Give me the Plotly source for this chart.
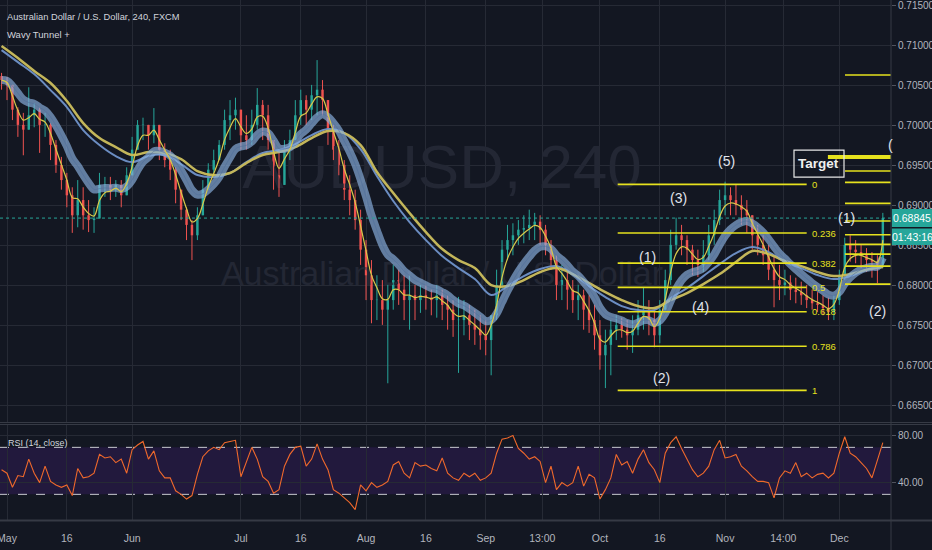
import plotly.graph_objects as go

# ---------------- data (daily bars, index 0 = 1 May, trading days) ----------------
idx = list(range(-1, 162))
first_open = 0.7062
high = [.7066, .7061, .7045, .7023, .7016, .7048, .7028, .7023, .7016, .7003,
        .6982, .6961, .6941, .6923, .6932, .6923, .6907, .6898, .6941, .6936,
        .6936, .6932, .6932, .6948, .6986, .7007, .7010, .6998, .7022, .6991,
        .6978, .6970, .6948, .6920, .6898, .6882, .6898, .6932, .6953, .6970,
        .6982, .7020, .7032, .7035, .7020, .7013, .7020, .7047, .7032, .7026,
        .6982, .6970, .6982, .6995, .7032, .7045, .7038, .7051, .7082, .7057,
        .7032, .7001, .6982, .6957, .6938, .6920, .6895, .6857, .6832, .6813,
        .6807, .6801, .6826, .6820, .6813, .6813, .6801, .6801, .6801, .6795,
        .6801, .6795, .6788, .6782, .6786, .6782, .6776, .6770, .6763, .6757,
        .6751, .6820, .6857, .6876, .6878, .6882, .6888, .6895, .6891, .6888,
        .6876, .6857, .6838, .6826, .6820, .6807, .6801, .6795, .6788, .6776,
        .6757, .6745, .6757, .6763, .6760, .6757, .6763, .6782, .6798, .6782,
        .6770, .6782, .6820, .6870, .6885, .6876, .6863, .6851, .6845, .6857,
        .6876, .6895, .6920, .6930, .6923, .6926, .6913, .6907, .6888, .6876,
        .6863, .6851, .6838, .6826, .6820, .6813, .6810, .6805, .6801, .6795,
        .6792, .6788, .6785, .6788, .6820, .6860, .6863, .6857, .6851, .6847,
        .6842, .6838, .6891]
low = [.7045, .7032, .7007, .6986, .6963, .6995, .6998, .6966, .6986, .6957,
       .6941, .6920, .6898, .6866, .6873, .6870, .6867, .6866, .6886, .6911,
       .6907, .6911, .6898, .6916, .6941, .6970, .6982, .6970, .6978, .6957,
       .6948, .6932, .6903, .6882, .6857, .6832, .6857, .6898, .6923, .6941,
       .6957, .6970, .6982, .6995, .6970, .6970, .6976, .6995, .6982, .6970,
       .6920, .6911, .6945, .6957, .6982, .7001, .7001, .7007, .7013, .7013,
       .6976, .6957, .6938, .6907, .6888, .6870, .6826, .6782, .6753, .6757,
       .6751, .6678, .6770, .6776, .6757, .6745, .6757, .6766, .6770, .6763,
       .6760, .6757, .6745, .6736, .6691, .6738, .6732, .6726, .6720, .6713,
       .6688, .6757, .6795, .6832, .6838, .6851, .6853, .6857, .6857, .6851,
       .6838, .6820, .6782, .6782, .6770, .6766, .6757, .6745, .6741, .6720,
       .6695, .6672, .6688, .6732, .6735, .6720, .6716, .6738, .6745, .6738,
       .6723, .6728, .6770, .6801, .6845, .6838, .6826, .6813, .6811, .6817,
       .6832, .6851, .6876, .6888, .6888, .6888, .6876, .6866, .6845, .6838,
       .6826, .6807, .6773, .6782, .6788, .6782, .6778, .6776, .6772, .6770,
       .6767, .6763, .6757, .6757, .6776, .6807, .6830, .6828, .6822, .6817,
       .6810, .6803, .6822]
close = [.7057, .7051, .7020, .7001, .6995, .7013, .7020, .7001, .7001, .6976,
         .6951, .6932, .6913, .6888, .6907, .6888, .6882, .6884, .6926, .6926,
         .6920, .6926, .6913, .6938, .6970, .7001, .7001, .6988, .7001, .6970,
         .6957, .6945, .6920, .6895, .6876, .6863, .6888, .6920, .6945, .6957,
         .6976, .7007, .7013, .7020, .6988, .6982, .7001, .7026, .7013, .6982,
         .6938, .6926, .6970, .6982, .7013, .7032, .7020, .7038, .7045, .7032,
         .6995, .6970, .6951, .6920, .6907, .6882, .6845, .6813, .6782, .6782,
         .6770, .6782, .6807, .6795, .6782, .6788, .6782, .6788, .6785, .6782,
         .6788, .6776, .6770, .6757, .6757, .6763, .6751, .6745, .6738, .6732,
         .6763, .6801, .6845, .6857, .6863, .6870, .6872, .6876, .6880, .6870,
         .6851, .6832, .6801, .6807, .6795, .6782, .6788, .6770, .6757, .6738,
         .6713, .6726, .6745, .6751, .6745, .6738, .6745, .6763, .6770, .6757,
         .6738, .6770, .6807, .6851, .6863, .6857, .6845, .6832, .6826, .6838,
         .6863, .6882, .6907, .6913, .6907, .6901, .6895, .6888, .6863, .6851,
         .6838, .6820, .6807, .6801, .6804, .6795, .6792, .6788, .6782, .6778,
         .6776, .6772, .6767, .6782, .6813, .6851, .6845, .6842, .6838, .6832,
         .6830, .6826, .68845]
rsi = [51, 48, 36, 46, 45, 60, 48, 40, 54, 41,
       38, 36, 38, 29, 52, 44, 45, 48, 64, 61,
       62, 57, 60, 48, 68, 72, 75, 60, 67, 50,
       44, 44, 33, 30, 26, 29, 47, 62, 67, 70,
       68, 74, 75, 76, 45, 57, 70, 60, 45, 41,
       31, 34, 54, 64, 70, 71, 54, 60, 73, 60,
       51, 34, 31, 27, 23, 17, 38, 33, 40, 36,
       38, 41, 55, 58, 48, 44, 57, 54, 55, 52,
       50, 61, 48, 44, 42, 48, 45, 48, 42, 44,
       48, 65, 77, 78, 80, 69, 65, 60, 62, 58,
       40, 54, 34, 40, 37, 40, 54, 37, 47, 44,
       26, 34, 44, 64, 55, 58, 48, 60, 68, 57,
       51, 40, 65, 74, 79, 69, 60, 51, 45, 48,
       54, 68, 76, 61, 62, 64, 54, 50, 45, 41,
       41, 40, 27, 44, 50, 48, 57, 45, 48, 44,
       47, 48, 44, 48, 65, 79, 65, 62, 57, 52,
       44, 60, 74]

# slow tunnel lines (every 3rd bar)
slow_idx = list(range(-1, 162, 3))
slow_yellow = [.70995, .70845, .70683, .70533, .70308, .70033, .69845, .69733, .69633, .6967,
               .69658, .69583, .69433, .69383, .69408, .69533, .69633, .6967, .69733, .69845,
               .69933, .69908, .69758, .6942, .69158, .68908, .6867, .68458, .6832, .6822,
               .68008, .67995, .6807, .6817, .6822, .68145, .68033, .6792, .6782, .67745,
               .6772, .6782, .67908, .6802, .68145, .68295, .68433, .68395, .68308, .68245,
               .6817, .6812, .68145, .6820, .68233]
slow_blue = [.70945, .70795, .70645, .70445, .70233, .69945, .69758, .6962, .69545, .6962,
             .69633, .6952, .69383, .69358, .69408, .69545, .69658, .69695, .6977, .69883,
             .69958, .69908, .69708, .6937, .69058, .68795, .6857, .6837, .6822, .68083,
             .67883, .67995, .6812, .68208, .68245, .68145, .67995, .67858, .67745, .67695,
             .67695, .67845, .6797, .6812, .6827, .68408, .68483, .6842, .68295, .6822,
             .68133, .68083, .6812, .6820, .68245]

tick_pos = [0, 11, 23, 43, 54, 66, 77, 88, 98.4, 109, 120, 132, 142.7, 153]
tick_txt = ["May", "16", "Jun", "Jul", "16", "Aug", "16", "Sep", "13:00", "Oct", "16", "Nov", "14:00", "Dec"]
price_ticks = [0.665, 0.670, 0.675, 0.680, 0.685, 0.690, 0.695, 0.700, 0.705, 0.710, 0.715]

last_price = 0.68845
fib_hi, fib_lo = 0.69266, 0.66691
fib_ratios = [0, 0.236, 0.382, 0.5, 0.618, 0.786, 1]
fib_x0, fib_x1 = 112.26, 147.0
proj_levels = [0.70633, 0.69433, 0.69291, 0.69029, 0.68808, 0.68636, 0.68516, 0.68395, 0.68245, 0.6802]
target_level = 0.69608
waves = [("(5)", 132.35, 0.69557), ("(3)", 123.35, 0.69095), ("(1)", 117.65, 0.68358),
         ("(4)", 127.39, 0.67733), ("(2)", 120.22, 0.66845), ("(1)", 154.4, 0.68845),
         ("(2)", 159.93, 0.67683), ("(", 162.35, 0.69758)]

# ---------------- styling ----------------
BG = "#131722"
GRID = "#262a35"
TXT = "#b2b5be"
UP, DN = "#26a69a", "#ef5350"
YEL = "#e6e21e"
FONT = "Liberation Sans Narrow, Liberation Sans, Arial, sans-serif"
W_PLOT, H_PLOT = 891, 521


def ema(vals, alpha, seed):
    out, e = [], seed
    for v in vals:
        e = e + alpha * (v - e)
        out.append(e)
    return out


opens = [first_open] + close[:-1]
hi = [max(h, o, c) for h, o, c in zip(high, opens, close)]
lo = [min(l, o, c) for l, o, c in zip(low, opens, close)]

fig = go.Figure()

# watermark
fig.add_trace(go.Scatter(x=[79.96], y=[0.6942], mode="text", text=["AUDUSD, 240"],
                         textfont=dict(family=FONT, size=62, color="#232734"),
                         hoverinfo="skip", xaxis="x", yaxis="y"))
fig.add_trace(go.Scatter(x=[79.96], y=[0.6812], mode="text", text=["Australian Dollar / U.S. Dollar"],
                         textfont=dict(family=FONT, size=34, color="#232734"),
                         hoverinfo="skip", xaxis="x", yaxis="y"))

# candles: wicks
for up in (True, False):
    xs, ys = [], []
    for i, o, c, h, l in zip(idx, opens, close, hi, lo):
        if (c >= o) == up:
            xs += [i, i, None]
            ys += [l, h, None]
    fig.add_trace(go.Scatter(x=xs, y=ys, mode="lines", line=dict(color=UP if up else DN, width=1),
                             hoverinfo="skip", xaxis="x", yaxis="y"))
# candles: bodies
fig.add_trace(go.Bar(x=idx, y=[max(abs(c - o), 0.00004) for o, c in zip(opens, close)],
                     base=[min(o, c) for o, c in zip(opens, close)], width=0.45,
                     marker=dict(color=[UP if c >= o else DN for o, c in zip(opens, close)], line=dict(width=0)),
                     hoverinfo="skip", xaxis="x", yaxis="y"))

# slow tunnel
fig.add_trace(go.Scatter(x=slow_idx, y=slow_blue, mode="lines", line=dict(color="#6b8dc2", width=2, shape="spline"),
                         hoverinfo="skip", xaxis="x", yaxis="y"))
fig.add_trace(go.Scatter(x=slow_idx, y=slow_yellow, mode="lines", line=dict(color="#c3b65a", width=2.5, shape="spline"),
                         hoverinfo="skip", xaxis="x", yaxis="y"))

# wavy tunnel (EMA of close) + fast EMA
tun = ema(close, 0.18, 0.7057)
fast = ema(close, 0.5, 0.7057)
fig.add_trace(go.Scatter(x=idx, y=tun, mode="lines", line=dict(color="#88aedb", width=8, shape="spline"),
                         opacity=0.68, hoverinfo="skip", xaxis="x", yaxis="y"))
fig.add_trace(go.Scatter(x=idx, y=tun, mode="lines", line=dict(color="#4e6d9a", width=1, shape="spline"),
                         opacity=0.55, hoverinfo="skip", xaxis="x", yaxis="y"))
fig.add_trace(go.Scatter(x=idx, y=fast, mode="lines", line=dict(color="#d8c94a", width=1.2, shape="spline"),
                         hoverinfo="skip", xaxis="x", yaxis="y"))

# RSI
fig.add_trace(go.Scatter(x=idx, y=rsi, mode="lines", line=dict(color="#f0692c", width=1.1),
                         hoverinfo="skip", xaxis="x", yaxis="y2"))

shapes = []
# RSI band
shapes.append(dict(type="rect", xref="paper", yref="y2", x0=0, x1=1, y0=30, y1=70,
                   fillcolor="#22193d", line=dict(width=0), layer="below"))
for lv in (30, 70):
    shapes.append(dict(type="line", xref="paper", yref="y2", x0=0, x1=1, y0=lv, y1=lv,
                       line=dict(color="#c8cad0", width=1, dash="dash"), layer="between"))
# last price line
shapes.append(dict(type="line", xref="paper", yref="y", x0=0, x1=1, y0=last_price, y1=last_price,
                   line=dict(color=UP, width=1, dash="dot"), layer="above"))
# fibonacci retracement
for r in fib_ratios:
    p = fib_hi - r * (fib_hi - fib_lo)
    shapes.append(dict(type="line", xref="x", yref="y", x0=fib_x0, x1=fib_x1, y0=p, y1=p,
                       line=dict(color=YEL, width=1.6), layer="above"))
# projection lines
for p in proj_levels:
    shapes.append(dict(type="line", xref="x", yref="y", x0=154.04, x1=162.5, y0=p, y1=p,
                       line=dict(color=YEL, width=1.6), layer="above"))
shapes.append(dict(type="line", xref="x", yref="y", x0=150.9, x1=162.5, y0=target_level, y1=target_level,
                   line=dict(color=YEL, width=4), layer="above"))
# target box
shapes.append(dict(type="rect", xref="x", yref="y", x0=144.67, x1=153.86, y0=0.69358, y1=0.69695,
                   line=dict(color="#e8e8e8", width=1.2), fillcolor="rgba(0,0,0,0)", layer="above"))


def py(p):
    return (H_PLOT - p) / H_PLOT


# pane separators and axis border
shapes.append(dict(type="line", xref="paper", yref="paper", x0=0, x1=932 / W_PLOT, y0=py(422.5), y1=py(422.5),
                   line=dict(color="#363a45", width=1), layer="above"))
shapes.append(dict(type="line", xref="paper", yref="paper", x0=0, x1=932 / W_PLOT, y0=py(424.5), y1=py(424.5),
                   line=dict(color="#363a45", width=1), layer="above"))
shapes.append(dict(type="line", xref="paper", yref="paper", x0=0, x1=932 / W_PLOT, y0=py(520.5), y1=py(520.5),
                   line=dict(color="#363a45", width=2), layer="above"))
shapes.append(dict(type="line", xref="paper", yref="paper", x0=1, x1=1, y0=py(550), y1=1,
                   line=dict(color="#363a45", width=1), layer="above"))
# price label boxes
shapes.append(dict(type="rect", xref="paper", yref="paper", x0=1.001, x1=932 / W_PLOT, y0=py(227), y1=py(209),
                   fillcolor=UP, line=dict(width=0), layer="above"))
shapes.append(dict(type="rect", xref="paper", yref="paper", x0=1.001, x1=932 / W_PLOT, y0=py(245), y1=py(228.5),
                   fillcolor=UP, line=dict(width=0), layer="above"))

ann = []
ann.append(dict(text="Australian Dollar / U.S. Dollar, 240, FXCM", xref="paper", yref="paper",
                x=5 / W_PLOT, y=py(17), xanchor="left", yanchor="middle", showarrow=False,
                font=dict(family=FONT, size=9.3, color="#d1d4dc")))
ann.append(dict(text="Wavy Tunnel +", xref="paper", yref="paper",
                x=5 / W_PLOT, y=py(34), xanchor="left", yanchor="middle", showarrow=False,
                font=dict(family=FONT, size=9.5, color="#d1d4dc")))
ann.append(dict(text="RSI (14, close)", xref="paper", yref="paper",
                x=6 / W_PLOT, y=py(442.5), xanchor="left", yanchor="middle", showarrow=False,
                font=dict(family=FONT, size=9, color="#d1d4dc")))
for r in fib_ratios:
    p = fib_hi - r * (fib_hi - fib_lo)
    ann.append(dict(text=f"{r:g}", xref="x", yref="y", x=147.6, y=p, xanchor="left", yanchor="middle",
                    showarrow=False, font=dict(family=FONT, size=9.5, color=YEL)))
for t, x, y in waves:
    ann.append(dict(text=t, xref="x", yref="y", x=x, y=y, xanchor="center", yanchor="middle",
                    showarrow=False, font=dict(family=FONT, size=14, color="#e0e3eb")))
ann.append(dict(text="<b>Target</b>", xref="x", yref="y", x=149.26, y=0.69526, xanchor="center", yanchor="middle",
                showarrow=False, font=dict(family=FONT, size=13.5, color="#f0f0f0")))
ann.append(dict(text="0.68845", xref="paper", yref="paper", x=912 / W_PLOT, y=py(218), xanchor="center",
                yanchor="middle", showarrow=False, font=dict(family=FONT, size=10.5, color="#ffffff")))
ann.append(dict(text="01:43:16", xref="paper", yref="paper", x=912 / W_PLOT, y=py(236.5), xanchor="center",
                yanchor="middle", showarrow=False, font=dict(family=FONT, size=10.5, color="#ffffff")))

fig.update_layout(
    width=932, height=550, margin=dict(l=0, r=41, t=0, b=29),
    paper_bgcolor=BG, plot_bgcolor=BG, showlegend=False, hovermode=False,
    barmode="overlay", font=dict(family=FONT, color=TXT),
    shapes=shapes, annotations=ann,
    xaxis=dict(domain=[0, 1], range=[-7 / 5.44, 884 / 5.44], anchor="y2",
               tickmode="array", tickvals=tick_pos, ticktext=tick_txt,
               showgrid=True, gridcolor=GRID, gridwidth=1, zeroline=False, showline=False,
               ticks="outside", ticklen=7, tickcolor=BG, ticklabeloverflow="allow",
               tickfont=dict(family=FONT, size=10.5, color=TXT), automargin=False, fixedrange=True),
    yaxis=dict(domain=[1 - 422 / H_PLOT, 1], range=[0.66296, 0.71571], side="right", anchor="x",
               tickmode="array", tickvals=price_ticks, ticktext=[f"{v:.5f}" for v in price_ticks],
               showgrid=True, gridcolor=GRID, zeroline=False, showline=False,
               ticks="outside", ticklen=4, tickcolor="#50535e", ticklabeloverflow="allow",
               tickfont=dict(family=FONT, size=10, color=TXT), automargin=False, fixedrange=True),
    yaxis2=dict(domain=[0, (H_PLOT - 424) / H_PLOT], range=[7.32, 89.87], side="right", anchor="x",
                tickmode="array", tickvals=[40, 80], ticktext=["40.00", "80.00"],
                showgrid=True, gridcolor=GRID, zeroline=False, showline=False,
                ticks="outside", ticklen=4, tickcolor="#50535e", ticklabeloverflow="allow",
                tickfont=dict(family=FONT, size=10, color=TXT), automargin=False, fixedrange=True),
)

fig.write_html("out.html", config={"displayModeBar": False, "staticPlot": True},
               post_script="document.body.style.margin='0';document.body.style.padding='0';"
                           "document.documentElement.style.background='#131722';")
